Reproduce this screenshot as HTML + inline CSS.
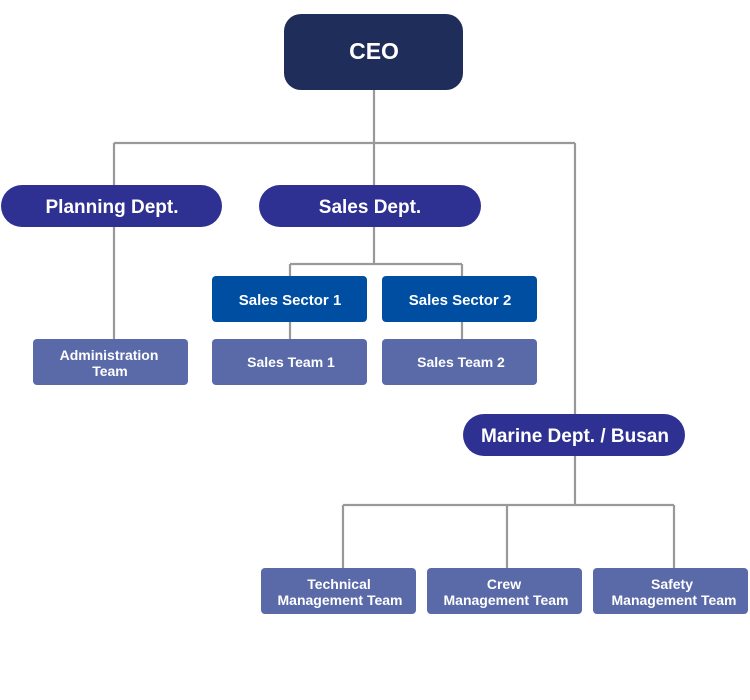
<!DOCTYPE html>
<html><head><meta charset="utf-8"><style>
html,body{margin:0;padding:0;background:#fff;width:750px;height:700px;overflow:hidden}
svg{display:block}
text{font-family:"Liberation Sans",sans-serif;font-weight:bold;fill:#fff;text-anchor:middle}
</style></head><body>
<svg width="750" height="700" viewBox="0 0 750 700" xmlns="http://www.w3.org/2000/svg">
<g stroke="#999" stroke-width="2.2" fill="none">
<path d="M374 90V143M114 143H575M114 143V340M374 143V185M575 143V414"/>
<path d="M374 227V264M290 264H462M290 264V277M462 264V277M290 322V340M462 322V340"/>
<path d="M575 456V505M343 505H674M343 505V568M507 505V568M674 505V568"/>
</g>
<rect x="284" y="14" width="179" height="76" rx="17" fill="#1e2d5a"/>
<text x="374" y="59" font-size="23">CEO</text>
<rect x="1" y="185" width="221" height="42" rx="21" fill="#2e3192"/>
<text x="112" y="213" font-size="19">Planning Dept.</text>
<rect x="259" y="185" width="222" height="42" rx="21" fill="#2e3192"/>
<text x="370" y="213" font-size="19">Sales Dept.</text>
<rect x="463" y="414" width="222" height="42" rx="21" fill="#2e3192"/>
<text x="575" y="442" font-size="19">Marine Dept. / Busan</text>
<g fill="#004ea2">
<rect x="212" y="276" width="155" height="46" rx="4"/>
<rect x="382" y="276" width="155" height="46" rx="4"/>
</g>
<text x="290" y="305" font-size="15">Sales Sector 1</text>
<text x="460" y="305" font-size="15">Sales Sector 2</text>
<g fill="#5a6aa8">
<rect x="33" y="339" width="155" height="46" rx="4"/>
<rect x="212" y="339" width="155" height="46" rx="4"/>
<rect x="382" y="339" width="155" height="46" rx="4"/>
<rect x="261" y="568" width="155" height="46" rx="4"/>
<rect x="427" y="568" width="155" height="46" rx="4"/>
<rect x="593" y="568" width="155" height="46" rx="4"/>
</g>
<g font-size="14">
<text x="109" y="360">Administration</text>
<text x="110" y="376">Team</text>
<text x="291" y="367">Sales Team 1</text>
<text x="461" y="367">Sales Team 2</text>
<text x="339" y="589">Technical</text>
<text x="340" y="605">Management Team</text>
<text x="504" y="589">Crew</text>
<text x="506" y="605">Management Team</text>
<text x="672" y="589">Safety</text>
<text x="674" y="605">Management Team</text>
</g>
</svg>
</body></html>
